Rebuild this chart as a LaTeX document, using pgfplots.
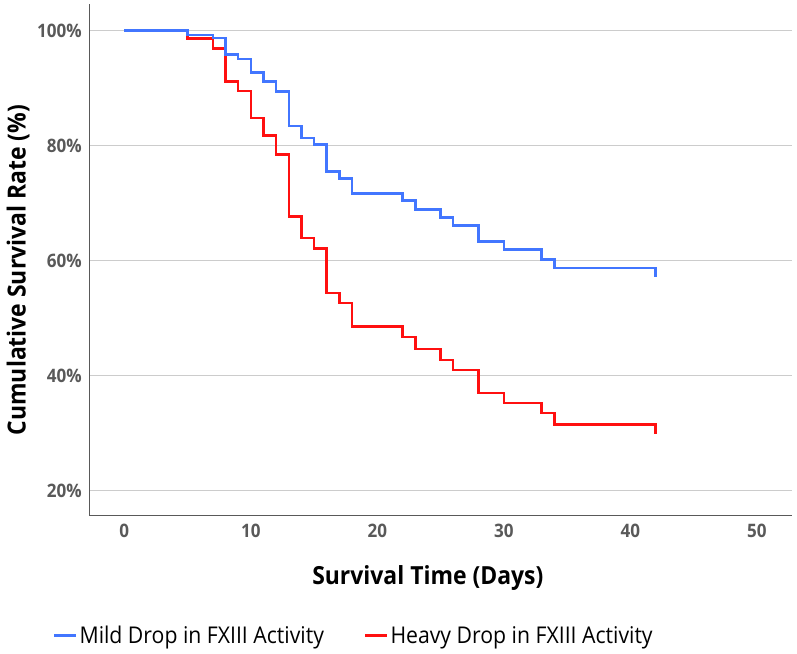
\documentclass[border=0pt]{standalone}
\usepackage{fontspec}
\setmainfont{Open Sans}[FakeStretch=0.92]
\usepackage{pgfplots}
\pgfplotsset{compat=1.18}
\definecolor{kmblue}{RGB}{66,118,255}
\definecolor{kmred}{RGB}{255,16,16}
\definecolor{tickgray}{RGB}{89,89,89}
\definecolor{gridgray}{RGB}{204,204,204}

% Kaplan-Meier step data: day, cumulative survival (%)
\begin{document}
\begin{tikzpicture}
\begin{axis}[
    name=ax,
    scale only axis,
    width=526.8pt, height=383.8pt,
    xmin=-2.77, xmax=52.76,
    ymin=15.65, ymax=104.6,
    axis lines*=left,
    axis line style={tickgray, line width=1.1pt},
    xtick={0,10,20,30,40,50},
    ytick={20,40,60,80,100},
    major tick length=0pt,
    ymajorgrids,
    grid style={gridgray, line width=1.1pt},
    /pgf/number format/assume math mode=true,
    yticklabel={\pgfmathprintnumber{\tick}\%},
    ticklabel style={font=\fontsize{13.9}{16}\selectfont\bfseries, text=tickgray, inner sep=0pt},
    xticklabel style={anchor=center, yshift=-11.3pt},
    yticklabel style={anchor=east, xshift=-5.5pt},
    xlabel={Survival Time (Days)},
    ylabel={Cumulative Survival Rate (\%)},
    label style={font=\fontsize{18.7}{22}\selectfont\bfseries},
    xlabel style={at={(axis description cs:0.482,-0.121)}, anchor=center},
    ylabel style={at={(axis description cs:-0.1015,0.48)}, anchor=center, rotate=0},
    legend columns=2,
    reverse legend,
    legend style={draw=none, fill=none, inner sep=0pt,
        at={(axis description cs:-0.052,-0.2345)}, anchor=west,
        font=\fontsize{17.3}{20}\selectfont,
        /tikz/every even column/.append style={column sep=28pt}},
    legend image code/.code={\draw[#1, line width=1.9pt] (0pt,0pt) -- (16pt,0pt);},
]
\addplot[kmred, line width=1.9pt, const plot mark left] coordinates {
    (0,100) (5,98.6) (7,96.9) (8,91.1) (9,89.5) (10,84.8) (11,81.7)
    (12,78.4) (13,67.7) (14,63.9) (15,62.1) (16,54.4) (17,52.6)
    (18,48.5) (22,46.7) (23,44.6) (25,42.7) (26,41.0) (28,37.0)
    (30,35.2) (33,33.5) (34,31.5) (42,29.8)
};
\addlegendentry{Heavy Drop in FXIII Activity}
\addplot[kmblue, line width=1.9pt, const plot mark left] coordinates {
    (0,100) (5,99.25) (7,98.7) (8,95.8) (9,95.0) (10,92.7) (11,91.1)
    (12,89.4) (13,83.4) (14,81.3) (15,80.2) (16,75.5) (17,74.3)
    (18,71.7) (22,70.4) (23,68.9) (25,67.5) (26,66.1) (28,63.3)
    (30,61.9) (33,60.2) (34,58.7) (42,57.2)
};
\addlegendentry{Mild Drop in FXIII Activity}
\end{axis}
\pgfresetboundingbox
\path ([xshift=-67pt,yshift=-103.7pt]ax.south west) rectangle ([xshift=530.8pt,yshift=386.8pt]ax.south west);
\end{tikzpicture}
\end{document}
